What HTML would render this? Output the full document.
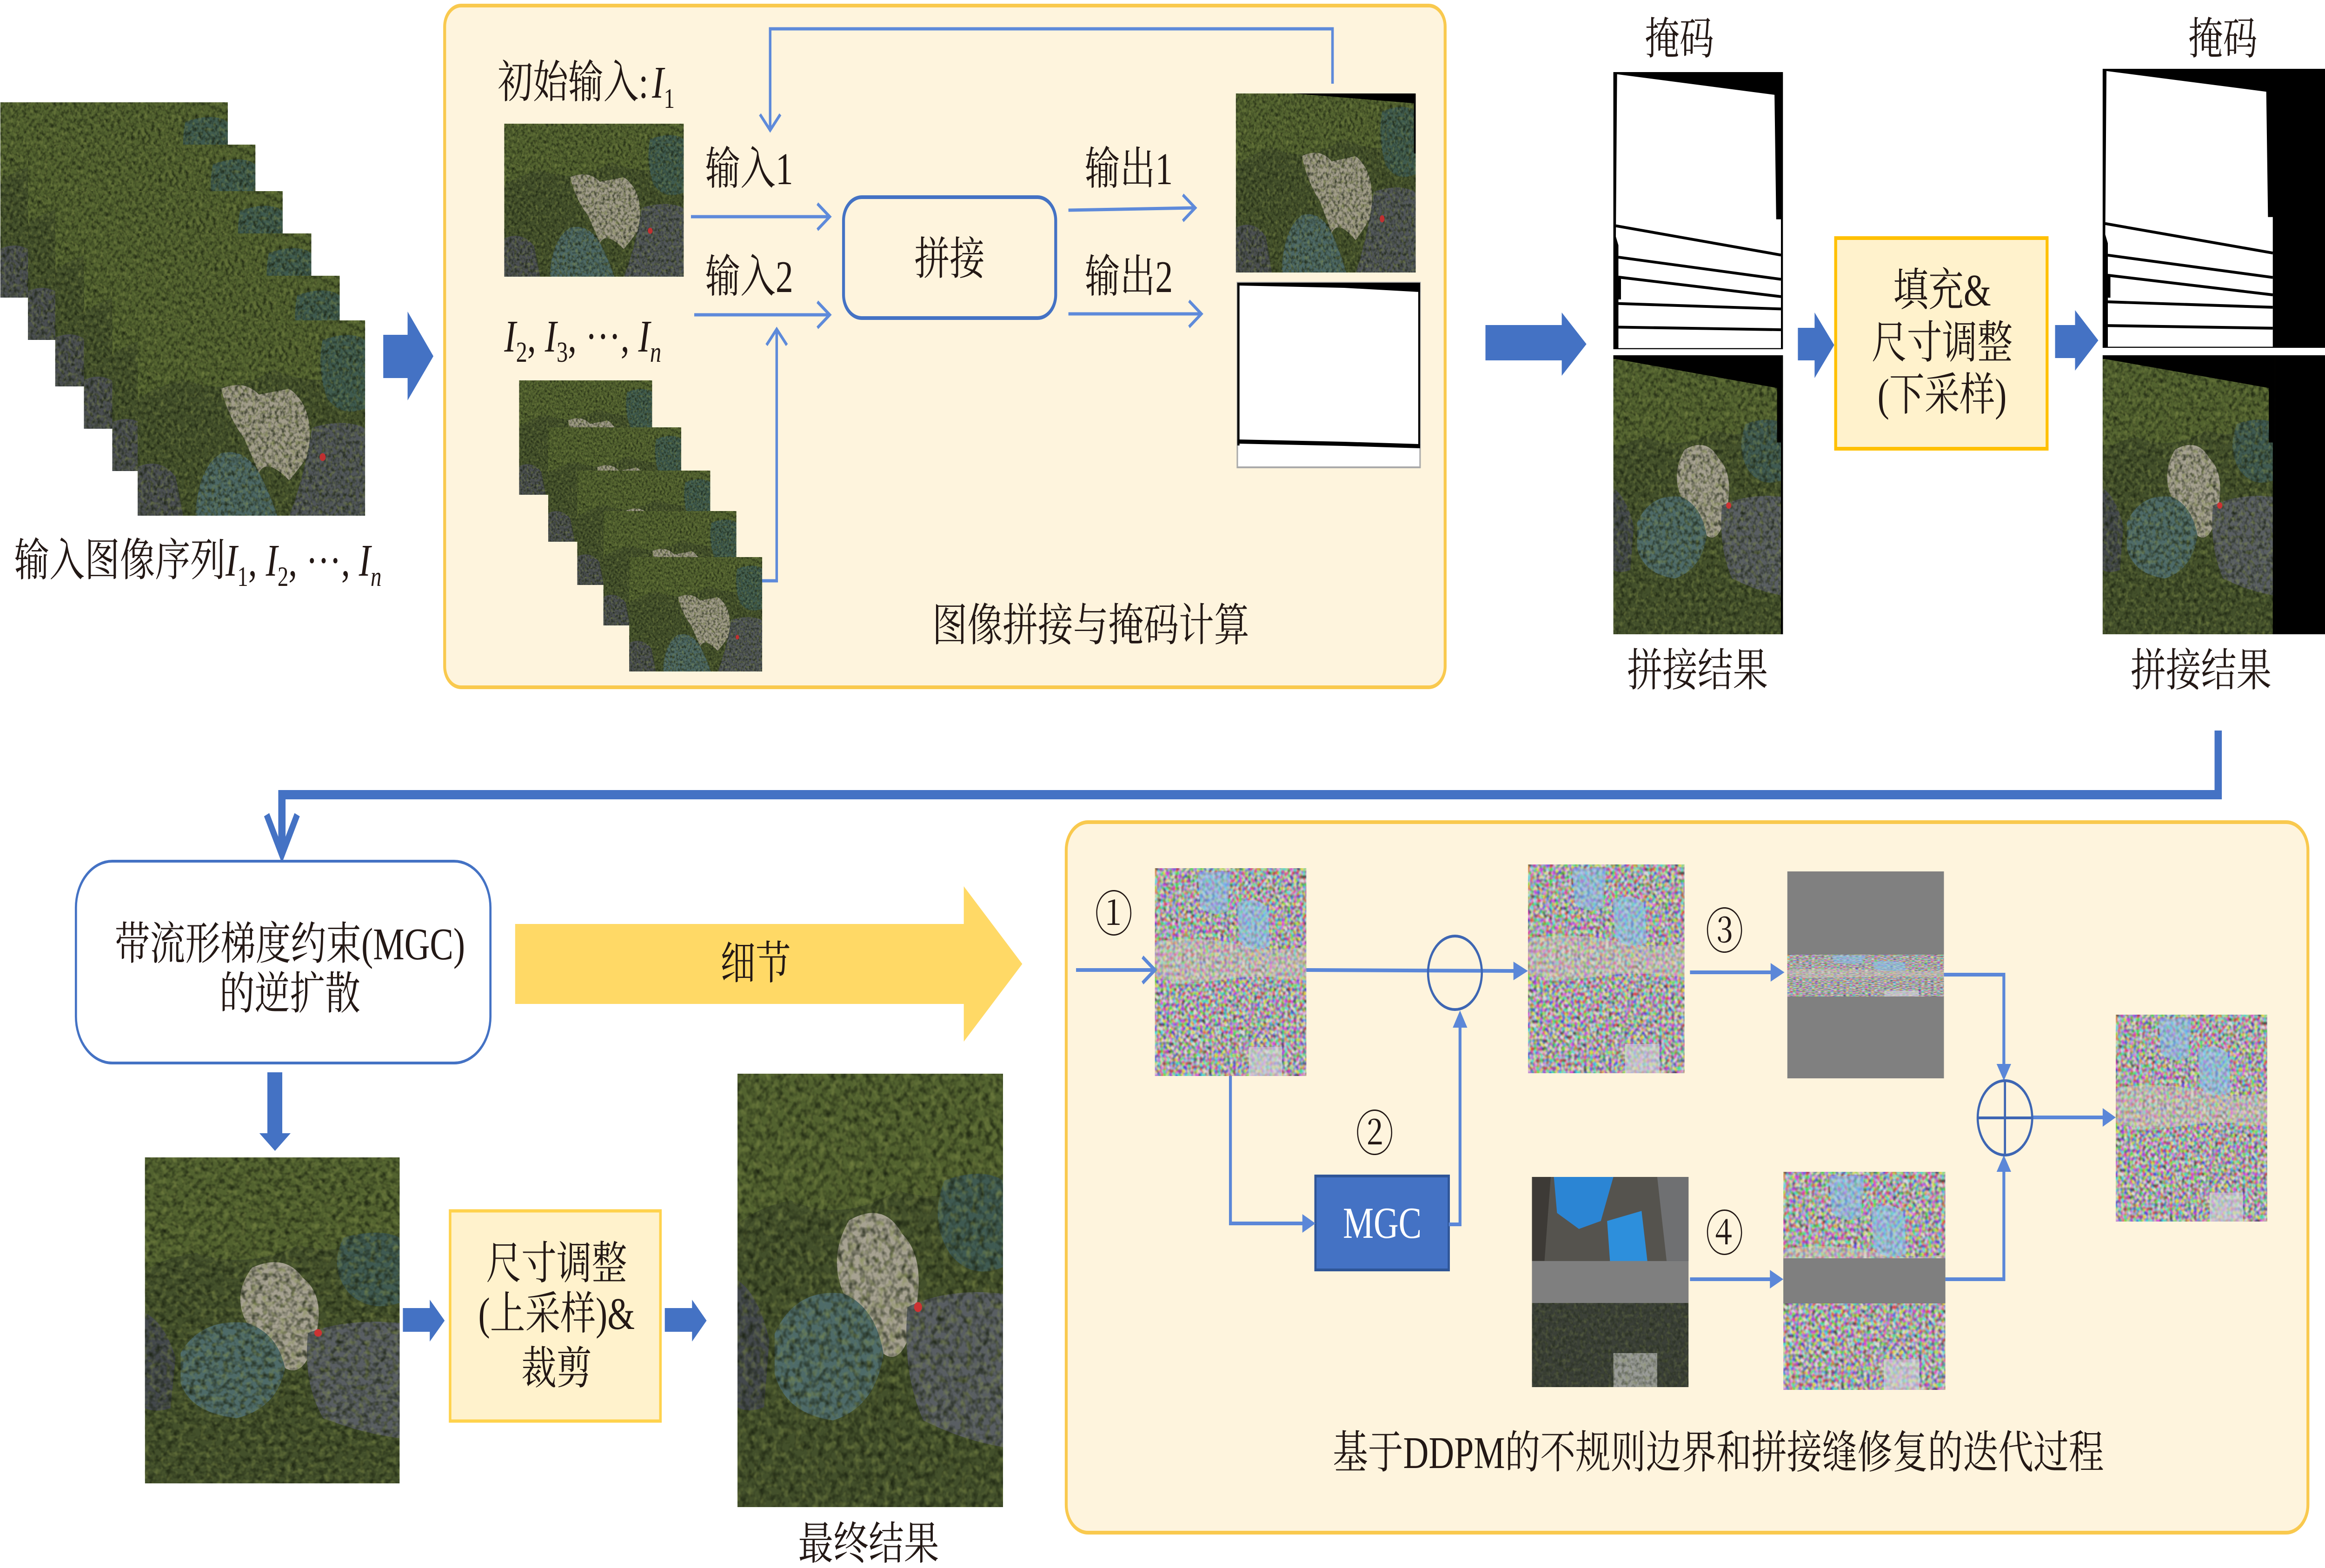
<!DOCTYPE html>
<html><head><meta charset="utf-8"><style>
html,body{margin:0;padding:0;background:#fff;width:100%;height:100%;overflow:hidden;}
svg{display:block;width:100vw;height:100vh;}
text{font-family:"Liberation Serif","Noto Serif CJK SC",serif;}
</style></head><body>
<svg xmlns="http://www.w3.org/2000/svg" viewBox="0 0 6400 3372" preserveAspectRatio="none">
<defs>
<filter id="tx" x="0" y="0" width="100%" height="100%" color-interpolation-filters="sRGB">
<feTurbulence type="fractalNoise" baseFrequency="0.45" numOctaves="2" seed="7" result="t"/>
<feColorMatrix in="t" type="matrix" values="0 0 0 0 0.10 0 0 0 0 0.13 0 0 0 0 0.06 1.9 0 0 0 -0.78" result="d"/>
<feColorMatrix in="t" type="matrix" values="0 0 0 0 0.50 0 0 0 0 0.55 0 0 0 0 0.28 0 1.4 0 0 -0.66" result="l"/>
<feMerge><feMergeNode in="d"/><feMergeNode in="l"/></feMerge>
</filter>
<filter id="nz" x="0" y="0" width="100%" height="100%" color-interpolation-filters="sRGB">
<feTurbulence type="fractalNoise" baseFrequency="0.5" numOctaves="1" seed="3"/>
<feColorMatrix type="matrix" values="2.6 0 0 0 -0.65 0 2.6 0 0 -0.65 0 0 2.6 0 -0.65 0 0 0 0 1"/>
</filter>

<symbol id="aL" viewBox="0 0 150 100" preserveAspectRatio="none">
<rect width="150" height="100" fill="#43502b"/>
<path d="M0 0H150V28Q110 34 90 25Q60 40 30 30Q10 35 0 40Z" fill="#52622f"/>
<path d="M55 35Q70 30 80 38L100 35Q118 45 112 70L100 82Q85 70 80 78L70 60Q60 50 55 35Z" fill="#a29d8b"/>
<path d="M38 100Q40 75 55 68Q70 65 80 78Q88 90 92 100Z" fill="#4c6866"/>
<path d="M122 10Q140 5 150 10V45Q135 50 125 40Q118 25 122 10Z" fill="#3e5a4f"/>
<path d="M0 75Q15 70 25 80L30 100H0Z" fill="#4a4e52"/>
<path d="M115 55Q135 50 150 55V100H100Q110 80 115 55Z" fill="#50555a"/>
<rect width="150" height="100" filter="url(#tx)"/>
<circle cx="122" cy="70" r="2" fill="#c03030"/>
</symbol>

<symbol id="aP" viewBox="0 0 100 130" preserveAspectRatio="none">
<rect width="100" height="130" fill="#43502b"/>
<path d="M0 0H100V30Q80 40 60 35Q40 45 20 38Q8 40 0 45Z" fill="#52622f"/>
<path d="M78 32Q92 28 100 32V58Q88 62 80 54Q72 44 78 32Z" fill="#3f5a52"/>
<path d="M42 44Q55 38 62 48Q72 56 66 75Q62 88 55 84Q50 70 40 66Q34 55 42 44Z" fill="#a7a292"/>
<path d="M14 78Q22 64 40 66Q52 70 55 84Q52 100 36 104Q18 102 14 90Z" fill="#4e6b69"/>
<path d="M64 70Q80 64 100 66V112Q85 110 70 104Q62 90 64 70Z" fill="#595e63"/>
<path d="M0 62Q8 66 12 80L10 100Q4 102 0 100Z" fill="#43484c"/>
<rect width="100" height="130" filter="url(#tx)"/>
<circle cx="68" cy="70" r="1.5" fill="#c33"/>
</symbol>

<symbol id="st" viewBox="0 0 100 128" preserveAspectRatio="none">
<use href="#aP" x="0" y="0" width="100" height="128"/>
<path d="M0 0H100V128H98.8V40H96.5V15L1.5 1.7H0Z" fill="#000"/>
</symbol>

<symbol id="mk" viewBox="0 0 100 128" preserveAspectRatio="none">
<rect width="100" height="128" fill="#000"/>
<path d="M2.2 1L95 10.5L96 68L98.8 68V127.5H3V80L1.5 76Z" fill="#fff"/>
<g stroke="#000" stroke-width="1.3" fill="none">
<path d="M1.5 71L98.8 84.5"/>
<path d="M3 85.5L98.8 95.7"/>
<path d="M3 94.7L98.8 103.7"/>
<path d="M3 106.9L98.8 109.4"/>
<path d="M3 117.8L98.8 119"/>
</g>
<rect x="1.5" y="95" width="3" height="10" fill="#000"/>
</symbol>

<symbol id="nzI" viewBox="0 0 100 107" preserveAspectRatio="none">
<rect width="100" height="107" fill="#a9a4a6"/>
<rect width="100" height="107" filter="url(#nz)" opacity="0.55"/>
<path d="M0 38Q30 34 60 40Q80 44 100 40V58Q70 54 40 58Q20 60 0 56Z" fill="#d8cdbf" opacity=".4"/>
<path d="M28 2H50L48 22Q38 26 30 20Z" fill="#86c0ee" opacity=".55"/>
<path d="M54 18Q66 14 74 20L76 40Q64 44 56 38Z" fill="#86c4f0" opacity=".55"/>
<path d="M62 92H84V107H62Z" fill="#d4d6dc" opacity=".6"/>
</symbol>

<symbol id="bld" viewBox="0 0 100 105" preserveAspectRatio="none">
<rect width="100" height="105" fill="#3b4038"/>
<rect width="100" height="42" fill="#55534e"/>
<path d="M0 0H12L8 42H0Z" fill="#3d3a36"/>
<path d="M14 0H52L44 22L30 26L16 18Z" fill="#2b85d4"/>
<path d="M48 22L70 17L74 44L50 44Z" fill="#2d8fdc"/>
<path d="M80 0H100V42H86Z" fill="#6f7072"/>
<rect y="42" width="100" height="21" fill="#7f7f7f"/>
<path d="M52 88H80V105H52Z" fill="#9a9c98"/>
<rect y="63" width="100" height="42" filter="url(#tx)" opacity=".6"/>
</symbol>
</defs>

<rect width="6400" height="3372" fill="#fff"/>

<!-- left stack -->
<use href="#aL" x="1" y="220" width="626" height="420"/>
<use href="#aL" x="77" y="311" width="626" height="420"/>
<use href="#aL" x="152" y="411" width="626" height="420"/>
<use href="#aL" x="231" y="502" width="626" height="420"/>
<use href="#aL" x="309" y="593" width="626" height="420"/>
<use href="#aL" x="379" y="689" width="626" height="420"/>

<text x="39" y="1238" font-size="97" fill="#231815">输入图像序列<tspan font-style="italic">I</tspan><tspan font-size="60" dy="22">1</tspan><tspan dy="-22">, </tspan><tspan font-style="italic">I</tspan><tspan font-size="60" dy="22">2</tspan><tspan dy="-22">, ···, </tspan><tspan font-style="italic">I</tspan><tspan font-size="60" dy="22" font-style="italic">n</tspan></text>

<polygon points="1055,720 1122,720 1122,670 1193,766 1122,861 1122,813 1055,813" fill="#4472C4"/>

<!-- panel 1 -->
<rect x="1224" y="12" width="2754" height="1466" rx="45" fill="#FEF4DD" stroke="#F9C94E" stroke-width="8"/>
<text x="1370" y="210" font-size="97" fill="#231815">初始输入:<tspan dx="10" font-style="italic">I</tspan><tspan font-size="60" dy="22">1</tspan></text>
<use href="#aL" x="1388" y="266" width="494" height="329"/>
<text x="1941" y="396" font-size="97" fill="#231815">输入1</text>
<text x="1941" y="628" font-size="97" fill="#231815">输入2</text>
<text x="1388" y="756" font-size="97" fill="#231815"><tspan font-style="italic">I</tspan><tspan font-size="62" dy="22">2</tspan><tspan dy="-22">, </tspan><tspan font-style="italic">I</tspan><tspan font-size="62" dy="22">3</tspan><tspan dy="-22">, ···, </tspan><tspan font-style="italic">I</tspan><tspan font-size="62" dy="22" font-style="italic">n</tspan></text>

<use href="#aL" x="1429" y="818" width="366" height="246"/>
<use href="#aL" x="1509" y="919" width="366" height="246"/>
<use href="#aL" x="1589" y="1012" width="366" height="246"/>
<use href="#aL" x="1661" y="1099" width="366" height="246"/>
<use href="#aL" x="1732" y="1198" width="366" height="246"/>

<g stroke="#5E8ADA" stroke-width="7" fill="none" stroke-linejoin="miter">
<path d="M3668 180V62H2120V276"/>
<path d="M2092 246L2120 280L2148 246"/>
<path d="M1902 466H2282"/>
<path d="M2250 438L2284 466L2250 494"/>
<path d="M1911 677H2282"/>
<path d="M2250 649L2284 677L2250 705"/>
<path d="M2098 1249H2138V712"/>
<path d="M2110 742L2138 708L2166 742"/>
<path d="M2941 452L3286 447"/>
<path d="M3256 419L3290 447L3256 475"/>
<path d="M2941 675H3303"/>
<path d="M3273 647L3307 675L3273 703"/>
</g>

<rect x="2322" y="424" width="584" height="260" rx="50" fill="none" stroke="#4472C4" stroke-width="8"/>
<text x="2614" y="590" font-size="97" fill="#231815" text-anchor="middle">拼接</text>
<text x="2986" y="396" font-size="97" fill="#231815">输出1</text>
<text x="2986" y="628" font-size="97" fill="#231815">输出2</text>

<use href="#aL" x="3402" y="201" width="495" height="385"/>
<polygon points="3560,201 3897,201 3897,330 3892,330 3892,222" fill="#000"/>

<rect x="3406" y="608" width="503" height="397" fill="#fff" stroke="#aaa" stroke-width="4"/>
<polygon points="3406,608 3909,608 3909,628 3700,619 3406,614" fill="#000"/>
<rect x="3406" y="608" width="6" height="350" fill="#000"/>
<rect x="3904" y="608" width="5" height="355" fill="#000"/>
<polygon points="3406,945 3700,950 3909,955 3909,964 3700,959 3406,954" fill="#000"/>

<text x="2566" y="1378" font-size="97" fill="#231815">图像拼接与掩码计算</text>

<!-- right top -->
<polygon points="4089,699 4299,699 4299,672 4367,740 4299,808 4299,775 4089,775" fill="#4472C4"/>
<text x="4528" y="116" font-size="95" fill="#231815">掩码</text>
<use href="#mk" x="4441" y="155" width="467" height="596"/>
<use href="#st" x="4441" y="764" width="467" height="600"/>
<text x="4479" y="1475" font-size="97" fill="#231815">拼接结果</text>

<polygon points="4949,705 4995,705 4995,672 5049,742 4995,813 4995,775 4949,775" fill="#4472C4"/>
<rect x="5053" y="512" width="582" height="453" fill="#FFF2CC" stroke="#FFC000" stroke-width="8"/>
<text x="5346" y="657" font-size="97" fill="#231815" text-anchor="middle">填充&amp;</text>
<text x="5346" y="770" font-size="97" fill="#231815" text-anchor="middle">尺寸调整</text>
<text x="5346" y="882" font-size="97" fill="#231815" text-anchor="middle">(下采样)</text>
<polygon points="5657,699 5712,699 5712,667 5776,732 5712,797 5712,770 5657,770" fill="#4472C4"/>

<text x="6024" y="116" font-size="95" fill="#231815">掩码</text>
<rect x="5788" y="148" width="612" height="600" fill="#000"/>
<use href="#mk" x="5788" y="148" width="474" height="600"/>
<rect x="5788" y="764" width="612" height="600" fill="#000"/>
<use href="#st" x="5788" y="764" width="474" height="600"/>
<text x="5865" y="1475" font-size="97" fill="#231815">拼接结果</text>

<!-- big connector -->
<path d="M6106 1571V1709H776V1832" fill="none" stroke="#4472C4" stroke-width="20"/>
<path d="M734 1752L776 1838L818 1752" fill="none" stroke="#4472C4" stroke-width="16"/>

<!-- bottom left -->
<rect x="209" y="1852" width="1141" height="434" rx="100" fill="#fff" stroke="#4472C4" stroke-width="6"/>
<text x="798" y="2063" font-size="97" fill="#231815" text-anchor="middle">带流形梯度约束(MGC)</text>
<text x="798" y="2170" font-size="97" fill="#231815" text-anchor="middle">的逆扩散</text>

<polygon points="1418,1987 2653,1987 2653,1906 2814,2073 2653,2240 2653,2159 1418,2159" fill="#FFD966"/>
<text x="2080" y="2105" font-size="97" fill="#231815" text-anchor="middle">细节</text>

<polygon points="736,2306 777,2306 777,2437 800,2437 757,2475 714,2437 736,2437" fill="#4472C4"/>
<use href="#aP" x="399" y="2489" width="701" height="701"/>
<polygon points="1109,2813 1183,2813 1183,2795 1224,2840 1183,2885 1183,2864 1109,2864" fill="#4472C4"/>
<rect x="1239" y="2604" width="579" height="452" fill="#FFF2CC" stroke="#FFD24C" stroke-width="7"/>
<text x="1532" y="2750" font-size="97" fill="#231815" text-anchor="middle">尺寸调整</text>
<text x="1532" y="2858" font-size="97" fill="#231815" text-anchor="middle">(上采样)&amp;</text>
<text x="1532" y="2976" font-size="97" fill="#231815" text-anchor="middle">裁剪</text>
<polygon points="1830,2813 1905,2813 1905,2795 1945,2840 1905,2885 1905,2864 1830,2864" fill="#4472C4"/>
<use href="#aP" x="2030" y="2309" width="731" height="932"/>
<text x="2391" y="3353" font-size="97" fill="#231815" text-anchor="middle">最终结果</text>

<!-- panel 2 -->
<rect x="2935" y="1768" width="3418" height="1528" rx="60" fill="#FEF4DD" stroke="#F9C94E" stroke-width="8"/>
<text x="3066" y="2003" font-size="105" fill="#231815" text-anchor="middle">①</text>
<use href="#nzI" x="3179" y="1867" width="417" height="447"/>
<use href="#nzI" x="4206" y="1859" width="431" height="449"/>
<text x="4747" y="2040" font-size="105" fill="#231815" text-anchor="middle">③</text>
<rect x="4920" y="1874" width="431" height="445" fill="#808080"/>
<use href="#nzI" x="4920" y="2053" width="431" height="90"/>
<use href="#nzI" x="5824" y="2182" width="417" height="445"/>
<text x="3784" y="2475" font-size="105" fill="#231815" text-anchor="middle">②</text>
<rect x="3621" y="2529" width="367" height="202" fill="#4472C4" stroke="#2F5597" stroke-width="6"/>
<text x="3805" y="2662" font-size="95" fill="#fff" text-anchor="middle">MGC</text>
<use href="#bld" x="4217" y="2531" width="431" height="452"/>
<text x="4747" y="2690" font-size="105" fill="#231815" text-anchor="middle">④</text>
<use href="#nzI" x="4909" y="2520" width="446" height="469"/>
<rect x="4909" y="2706" width="446" height="97" fill="#7f7f7f"/>

<g stroke="#5B87D8" stroke-width="8" fill="none">
<path d="M2962 2086H3175"/>
<path d="M3145 2058L3179 2086L3145 2114"/>
<path d="M3596 2086L4170 2088"/>
<path d="M4652 2091H4880"/>
<path d="M5351 2096H5516V2292"/>
<path d="M5594 2403H5792"/>
<path d="M3387 2314V2631H3588"/>
<path d="M3988 2633H4019V2208"/>
<path d="M4652 2751H4874"/>
<path d="M5355 2751H5516V2518"/>
</g>
<g fill="#5B87D8">
<polygon points="4206,2088 4166,2068 4166,2108"/>
<polygon points="4912,2091 4874,2071 4874,2111"/>
<polygon points="5516,2324 5496,2288 5536,2288"/>
<polygon points="5824,2403 5788,2383 5788,2423"/>
<polygon points="3621,2631 3585,2611 3585,2651"/>
<polygon points="4019,2173 3999,2210 4039,2210"/>
<polygon points="4909,2751 4872,2731 4872,2771"/>
<polygon points="5516,2484 5496,2520 5536,2520"/>
</g>
<ellipse cx="4005" cy="2092" rx="74" ry="79" fill="none" stroke="#3E66B3" stroke-width="6"/>
<ellipse cx="5519" cy="2404" rx="75" ry="80" fill="none" stroke="#3E66B3" stroke-width="6"/>
<path d="M5444 2404H5594M5519 2324V2484" stroke="#3E66B3" stroke-width="6"/>

<text x="4730" y="3157" font-size="97" fill="#231815" text-anchor="middle">基于DDPM的不规则边界和拼接缝修复的迭代过程</text>
</svg>
</body></html>
